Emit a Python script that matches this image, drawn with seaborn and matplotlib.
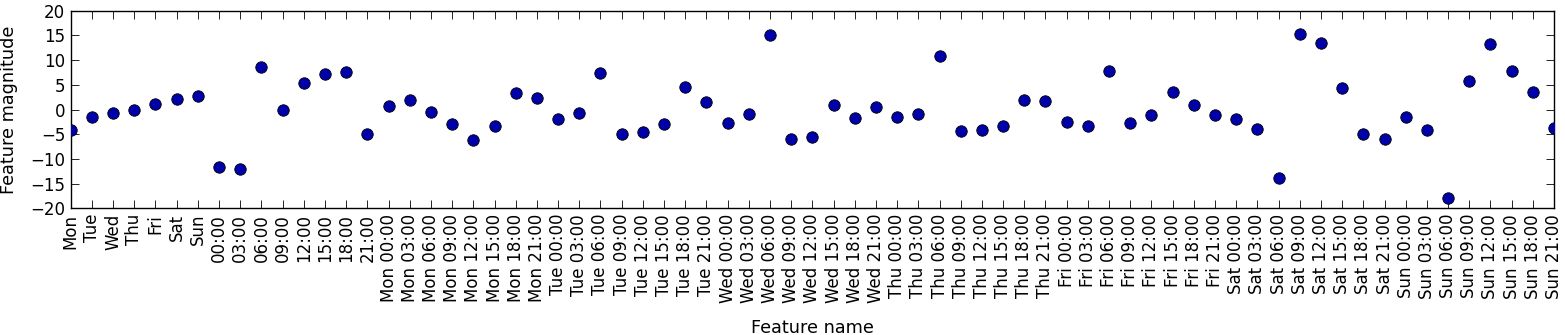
import matplotlib
matplotlib.use("Agg")
import matplotlib.pyplot as plt
import seaborn as sns
import numpy as np

days = ["Mon", "Tue", "Wed", "Thu", "Fri", "Sat", "Sun"]
hours = ["00:00", "03:00", "06:00", "09:00", "12:00", "15:00", "18:00", "21:00"]
feature_names = days + hours + [f"{d} {h}" for d in days for h in hours]

coef_days = [-4.2, -1.6, -0.6, -0.1, 1.1, 2.2, 2.8]
coef_hours = [-11.7, -12.1, 8.6, -0.1, 5.3, 7.2, 7.6, -5.0]
coef_mon = [0.7, 1.95, -0.5, -3.0, -6.1, -3.3, 3.4, 2.4]
coef_tue = [-1.95, -0.7, 7.3, -4.9, -4.5, -3.0, 4.5, 1.5]
coef_wed = [-2.8, -0.9, 15.0, -6.0, -5.5, 1.0, -1.75, 0.5]
coef_thu = [-1.6, -1.0, 10.9, -4.3, -4.1, -3.3, 1.9, 1.7]
coef_fri = [-2.55, -3.3, 7.7, -2.8, -1.1, 3.5, 0.95, -1.1]
coef_sat = [-1.95, -4.0, -13.8, 15.2, 13.4, 4.4, -5.0, -6.05]
coef_sun = [-1.6, -4.2, -18.0, 5.7, 13.3, 7.9, 3.6, -3.8]

coef = (coef_days + coef_hours + coef_mon + coef_tue + coef_wed + coef_thu
        + coef_fri + coef_sat + coef_sun)

sns.set_style("white")
plt.rcParams["font.family"] = ["DejaVu Sans"]
plt.rcParams["font.size"] = 12
plt.rcParams["text.color"] = "black"
plt.rcParams["axes.labelcolor"] = "black"
plt.rcParams["xtick.color"] = "black"
plt.rcParams["ytick.color"] = "black"
plt.rcParams["axes.edgecolor"] = "black"

fig = plt.figure(figsize=(15.65, 3.35), dpi=100)
ax = fig.add_axes([0.0452, 0.378, 0.9478, 0.590])

x = np.arange(len(coef))
sns.scatterplot(x=x, y=coef, ax=ax, color="#0000aa", edgecolor="black",
                linewidth=0.6, s=68, zorder=3, clip_on=True)

ax.set_xlim(0, len(coef) - 1)
ax.set_ylim(-20, 20)
ax.set_yticks(np.arange(-20, 21, 5))
ax.set_xticks(x)
ax.set_xticklabels(feature_names, rotation=90, fontsize=12)
ax.tick_params(axis="y", labelsize=12)
ax.tick_params(direction="in", length=5.5, width=0.6, top=True, right=True,
               bottom=True, left=True, color="black", labelcolor="black", pad=4)
for sp in ax.spines.values():
    sp.set_linewidth(1.0)
    sp.set_color("black")
ax.set_xlabel("Feature name", fontsize=12.7, labelpad=11, color="black")
ax.set_ylabel("Feature magnitude", fontsize=12.7, labelpad=8.5, color="black")

fig.savefig("out.png", dpi=100)
